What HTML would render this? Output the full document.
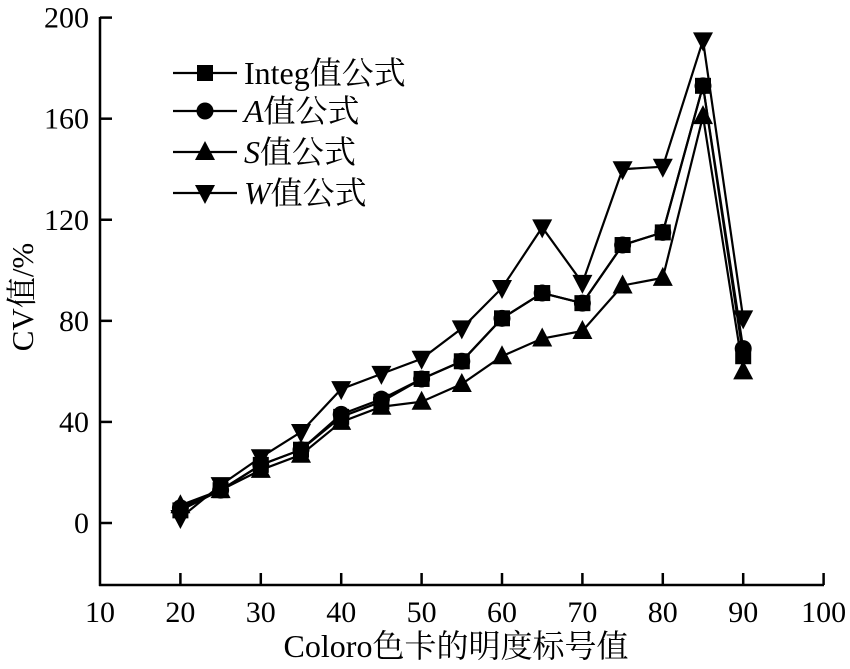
<!DOCTYPE html>
<html><head><meta charset="utf-8"><style>
html,body{margin:0;padding:0;background:#fff;}
svg{display:block;font-family:"Liberation Serif","Noto Serif CJK SC","Noto Sans CJK SC",serif;}
</style></head><body>
<svg id="c" width="850" height="669" viewBox="0 0 850 669" xmlns="http://www.w3.org/2000/svg">
<g stroke="#000" stroke-width="2.5" fill="none">
<line x1="100" y1="17" x2="100" y2="586"/>
<line x1="99" y1="585" x2="824" y2="585"/>
</g>
<g id="ticks" stroke="#000" stroke-width="2.5"></g>
<g id="labels" font-size="30" fill="#000"></g>
<g id="series"></g>
<text x="456" y="657" font-size="32" text-anchor="middle">Coloro色卡的明度标号值</text>
<text transform="translate(33,297) rotate(-90)" font-size="31" text-anchor="middle">CV值/%</text>
<g id="legend" font-size="32"></g>
</svg>
<script>
var NS="http://www.w3.org/2000/svg";
function el(t,a,p,txt){var e=document.createElementNS(NS,t);for(var k in a)e.setAttribute(k,a[k]);if(txt!=null)e.textContent=txt;p.appendChild(e);return e;}
function X(v){return 100+(v-10)*8.04;}
function Y(v){return 523-v*2.527;}
var tk=document.getElementById('ticks'),lb=document.getElementById('labels');
for(var v=10;v<=100;v+=10){var x=X(v);if(v>10)el('line',{x1:x,y1:585,x2:x,y2:573},tk);el('text',{x:x,y:622,'text-anchor':'middle'},lb,String(v));}
for(var v=0;v<=200;v+=40){var y=Y(v);el('line',{x1:100,y1:y,x2:112,y2:y},tk);el('text',{x:89,y:y+10,'text-anchor':'end'},lb,String(v));}
var xs=[20,25,30,35,40,45,50,55,60,65,70,75,80,85,90];
var D={
sq:[5,13,23,29,42,48,57,64,81,91,87,110,115,173,66],
ci:[6,13,23,29,43,49,57,64,81,91,87,110,115,173,69],
up:[7,13,21,27,40,46,48,55,66,73,76,94,97,161,60],
dn:[2,15,26,36,53,59,65,77,93,117,95,140,141,191,81]};
function marker(g,type,x,y){
 if(type=='sq')el('rect',{x:x-8,y:y-8,width:16,height:16,fill:'#000'},g);
 else if(type=='ci')el('circle',{cx:x,cy:y,r:8.5,fill:'#000'},g);
 else if(type=='up')el('polygon',{points:(x-10)+','+(y+8)+' '+(x+10)+','+(y+8)+' '+x+','+(y-11),fill:'#000'},g);
 else el('polygon',{points:(x-10)+','+(y-8)+' '+(x+10)+','+(y-8)+' '+x+','+(y+11),fill:'#000'},g);
}
var sg=document.getElementById('series');
['sq','ci','up','dn'].forEach(function(k){
 var pts=xs.map(function(x,i){return X(x)+','+Y(D[k][i]);}).join(' ');
 el('polyline',{points:pts,fill:'none',stroke:'#000','stroke-width':2.2},sg);
});
['sq','ci','up','dn'].forEach(function(k){xs.forEach(function(x,i){marker(sg,k,X(x),Y(D[k][i]));});});
var lg=document.getElementById('legend');
var items=[['sq','Integ',false,73],['ci','A',true,111],['up','S',true,152],['dn','W',true,193]];
items.forEach(function(it){
 el('line',{x1:173,y1:it[3],x2:237,y2:it[3],stroke:'#000','stroke-width':2.2},lg);
 marker(lg,it[0],205,it[3]);
 var t=el('text',{x:244,y:it[3]+11},lg);
 el('tspan',{'font-style':it[2]?'italic':'normal'},t,it[1]);
 el('tspan',{},t,'值公式');
});
</script>
</body></html>
